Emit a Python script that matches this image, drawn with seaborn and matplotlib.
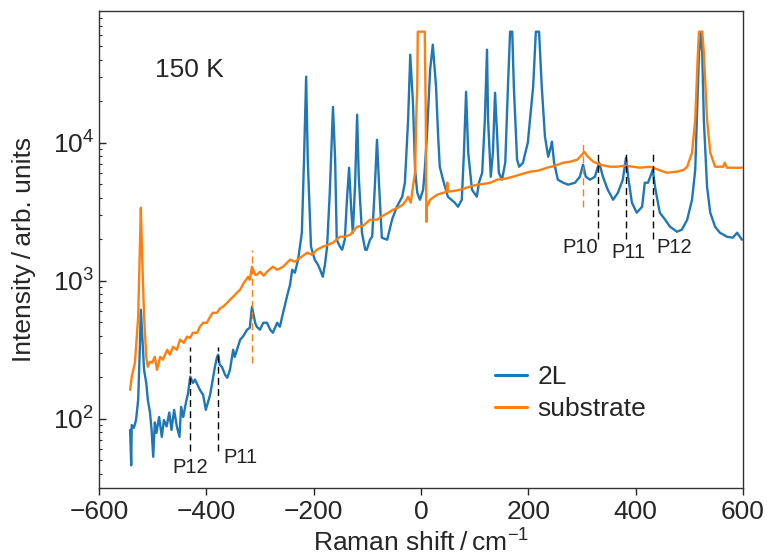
import numpy as np
import pandas as pd
import matplotlib
matplotlib.use("Agg")
import matplotlib.pyplot as plt
import seaborn as sns

# ---------------- data ----------------
shift_2L = [-542, -540, -539, -535, -531, -527, -524, -522, -520, -516, -512, -509,
            -505, -502, -499, -496, -493, -488, -483, -479, -474, -469, -465, -460, -455, -450,
            -447, -443, -438, -434, -430,
            -425, -421, -412, -406, -401, -393, -388, -384, -380, -378, -375, -371, -365, -361, -356,
            -350, -347, -337, -332, -324, -319, -315, -309, -306, -300, -294, -287, -281, -276, -268,
            -263, -257, -248, -244, -240, -235, -229, -222, -218, -214, -211, -205, -198, -192, -188,
            -183, -179, -175, -170, -164, -160, -157, -151, -147, -142, -138, -134, -130, -127, -123,
            -119, -116, -110, -104, -101, -95, -91, -86, -82, -78, -73, -63, -54, -45, -35,
            -30, -24, -20, -15, -11, -7, -2, 4, 7, 11, 17, 22, 28, 32, 35,
            41, 50, 63, 69, 76, 80, 84, 88, 95, 104, 108, 114, 119, 123, 125,
            130, 134, 138, 142, 145, 151, 157, 162, 166, 170, 173, 179, 183, 190, 199,
            209, 214, 220, 225, 231, 237, 242, 244, 248, 255, 265, 274, 287, 296, 302,
            307, 315, 324, 332, 339, 348, 358, 367, 376, 382, 386, 393, 402, 412, 417,
            423, 432, 436, 445, 455, 464, 477, 486, 496, 505, 511, 514, 518, 522, 524,
            527, 533, 539, 548, 557, 570, 581, 589, 598]
int_2L = [83, 46, 90, 86, 98, 137, 316, 617, 442, 226, 182, 137,
          111, 83, 53, 94, 79, 103, 74, 98, 88, 111, 83, 116, 88, 74,
          122, 103, 131, 154, 202,
          182, 192, 162, 149, 116, 149, 192, 238, 281, 291, 246, 238, 208, 198, 226,
          316, 281, 374, 393, 442, 456, 648, 496, 464, 442, 496, 496, 442, 420, 496,
          464, 586, 819, 935, 1201, 1143, 1420, 2227, 7530, 30100, 7530, 1764, 1420, 1306, 1201,
          1069, 1306, 1764, 4345, 18200, 7530, 1982, 1764, 1677, 1982, 3863, 6590, 3270, 2227, 4800,
          15950, 5670, 2227, 1677, 1677, 1982, 2084, 4800, 10500, 4800, 2050, 1982, 2767, 3438, 4063,
          5130, 14700, 43400, 19500, 6375, 4345, 3863, 4565, 6375, 11050, 33800, 51300, 25450, 11050, 6700,
          5395, 4063, 3675, 3438, 3863, 8460, 23400, 8460, 4565, 4063, 5130, 6060, 14700, 47200, 14700,
          5670, 8460, 23000, 11050, 6060, 5395, 7165, 25450, 63750, 63750, 25450, 7530, 6700, 7165, 10000,
          25450, 63750, 63750, 25450, 11050, 7915, 9350, 10170, 7165, 5395, 5130, 4965, 5130, 5670, 6930,
          5670, 5395, 5670, 7165, 5670, 4565, 3863, 4345, 5395, 7785, 5670, 3675, 3110, 3438, 5130,
          5130, 6375, 4800, 3110, 2767, 2462, 2265, 2342, 2767, 3863, 6375, 14700, 44900, 62700, 44900,
          14700, 4800, 3110, 2462, 2227, 2084, 2050, 2227, 1982]

shift_sub = [-542, -539, -533, -527, -524, -522, -520, -516, -512, -509, -505, -501, -496, -492, -486,
             -481, -473, -468, -462, -455, -449, -442, -436, -430, -425, -417, -412, -406, -399, -393,
             -388, -380, -375, -369, -361, -356, -350, -343, -337, -330, -322, -319, -315, -309, -306,
             -300, -293, -287, -276, -268, -257, -244, -235, -225, -212, -203, -194, -183, -173, -164,
             -151, -142, -132, -119, -108, -95, -82, -71, -61, -52, -43, -34, -28, -24, -19,
             -15, -11, -9, -7, -6, 7, 9, 10, 11, 17, 30, 48, 49, 50, 63,
             73, 91, 104, 119, 129, 142, 157, 171, 184, 203, 218, 235, 250, 265, 278,
             291, 300, 304, 311, 321, 334, 352, 365, 380, 395, 408, 427, 442, 458, 477,
             490, 496, 505, 511, 516, 518, 524, 527, 533, 539, 548, 563, 566, 570, 581,
             598]
int_sub = [162, 202, 255, 548, 1677, 3381, 1677, 548, 281, 238, 259, 255, 281, 226, 281,
           268, 316, 291, 332, 316, 374, 355, 393, 386, 420, 420, 464, 496, 496, 548,
           586, 586, 627, 648, 693, 728, 766, 819, 861, 967, 1069, 1017, 1263, 1105, 1105,
           1162, 1087, 1162, 1263, 1201, 1263, 1420, 1373, 1468, 1596, 1543, 1677, 1764, 1824, 1886,
           2084, 2084, 2154, 2462, 2504, 2767, 2767, 2958, 3110, 3270, 3381, 3555, 3800, 4063, 3675,
           4800, 6060, 14700, 25450, 63750, 63750, 14700, 2676, 3438, 3863, 4200, 4415, 5130, 4415, 4490,
           4565, 4800, 4965, 5045, 5130, 5395, 5485, 5670, 5865, 6165, 6270, 6590, 6815, 7165, 7285,
           7530, 8190, 8600, 7915, 7285, 6930, 6700, 6700, 6815, 6700, 6590, 6700, 6375, 6060, 6165,
           6375, 6700, 8460, 14700, 44900, 63750, 63750, 44900, 14700, 8460, 6700, 6700, 7165, 6590, 6590,
           6590]

# dashed peak markers: x position, y bottom, y top
black_mark_x = [-430, -378, 330, 382, 432]
black_mark_ylo = [58, 58, 2015, 2015, 2015]
black_mark_yhi = [332, 332, 8900, 8900, 8900]
orange_mark_x = [-315, 302]
orange_mark_ylo = [255, 3438]
orange_mark_yhi = [1677, 10500]

peak_labels = ["P12", "P11", "P10", "P11", "P12"]
peak_label_x = [-430, -337, 296, 386, 471]
peak_label_y = [44, 52, 1734, 1596, 1734]

series_names = ["2L", "substrate"]
colors = ["#1f77b4", "#ff7f0e"]

# ---------------- figure ----------------
sns.set_style("ticks")
plt.rcParams["font.family"] = ["Liberation Sans", "DejaVu Sans"]
plt.rcParams["mathtext.fontset"] = "custom"
plt.rcParams["mathtext.rm"] = "Liberation Sans"
plt.rcParams["mathtext.it"] = "Liberation Sans:italic"
plt.rcParams["mathtext.bf"] = "Liberation Sans:bold"

df = pd.concat([
    pd.DataFrame({"shift": shift_2L, "intensity": int_2L, "sample": series_names[0]}),
    pd.DataFrame({"shift": shift_sub, "intensity": int_sub, "sample": series_names[1]}),
], ignore_index=True)

fig = plt.figure(figsize=(7.67, 5.56), dpi=100)
ax = fig.add_axes([99 / 767, 1 - 488 / 556, 644 / 767, 477 / 556])

sns.lineplot(data=df, x="shift", y="intensity", hue="sample", hue_order=series_names,
             palette=colors, sort=False, estimator=None, linewidth=1.7, ax=ax)
ax.set_yscale("log")

for xm, lo, hi in zip(black_mark_x, black_mark_ylo, black_mark_yhi):
    ax.plot([xm, xm], [lo, hi], color="black", ls=(0, (5, 3)), lw=1.0)
for xm, lo, hi in zip(orange_mark_x, orange_mark_ylo, orange_mark_yhi):
    ax.plot([xm, xm], [lo, hi], color=colors[1], ls=(0, (5, 3)), lw=1.0)
for t, xl, yl in zip(peak_labels, peak_label_x, peak_label_y):
    ax.text(xl, yl, t, ha="center", va="center", fontsize=14.5, color="#222222")

ax.text(0.087, 0.876, "150 K", transform=ax.transAxes, ha="left", va="center", fontsize=19)

ax.set_xlim(-600, 600)
ax.set_ylim(31.5, 9.0e4)
ax.set_xticks([-600, -400, -200, 0, 200, 400, 600])
ax.set_xticklabels(["\u2212600", "\u2212400", "\u2212200", "0", "200", "400", "600"])
ax.set_xlabel("Raman shift\u2009/\u2009cm$^{-1}$", fontsize=19, labelpad=4)
ax.set_ylabel("Intensity\u2009/\u2009arb. units", fontsize=19, labelpad=12)
ax.tick_params(axis="both", labelsize=19)
ax.tick_params(axis="y", which="major", direction="in", length=5, width=1)
ax.tick_params(axis="y", which="minor", direction="in", length=2.5, width=0.8)
ax.tick_params(axis="x", which="major", direction="out", length=5, width=1)
for s in ax.spines.values():
    s.set_color("#333333")
    s.set_linewidth(1.0)

sns.move_legend(ax, loc="upper left", bbox_to_anchor=(0.615, 0.258), frameon=False,
                title=None, fontsize=19, handlelength=1.2, handletextpad=0.4,
                labelspacing=0.3, borderaxespad=0.0, borderpad=0.0)
for ln in ax.get_legend().get_lines():
    ln.set_linewidth(2.2)

fig.savefig("out.png", dpi=100)
